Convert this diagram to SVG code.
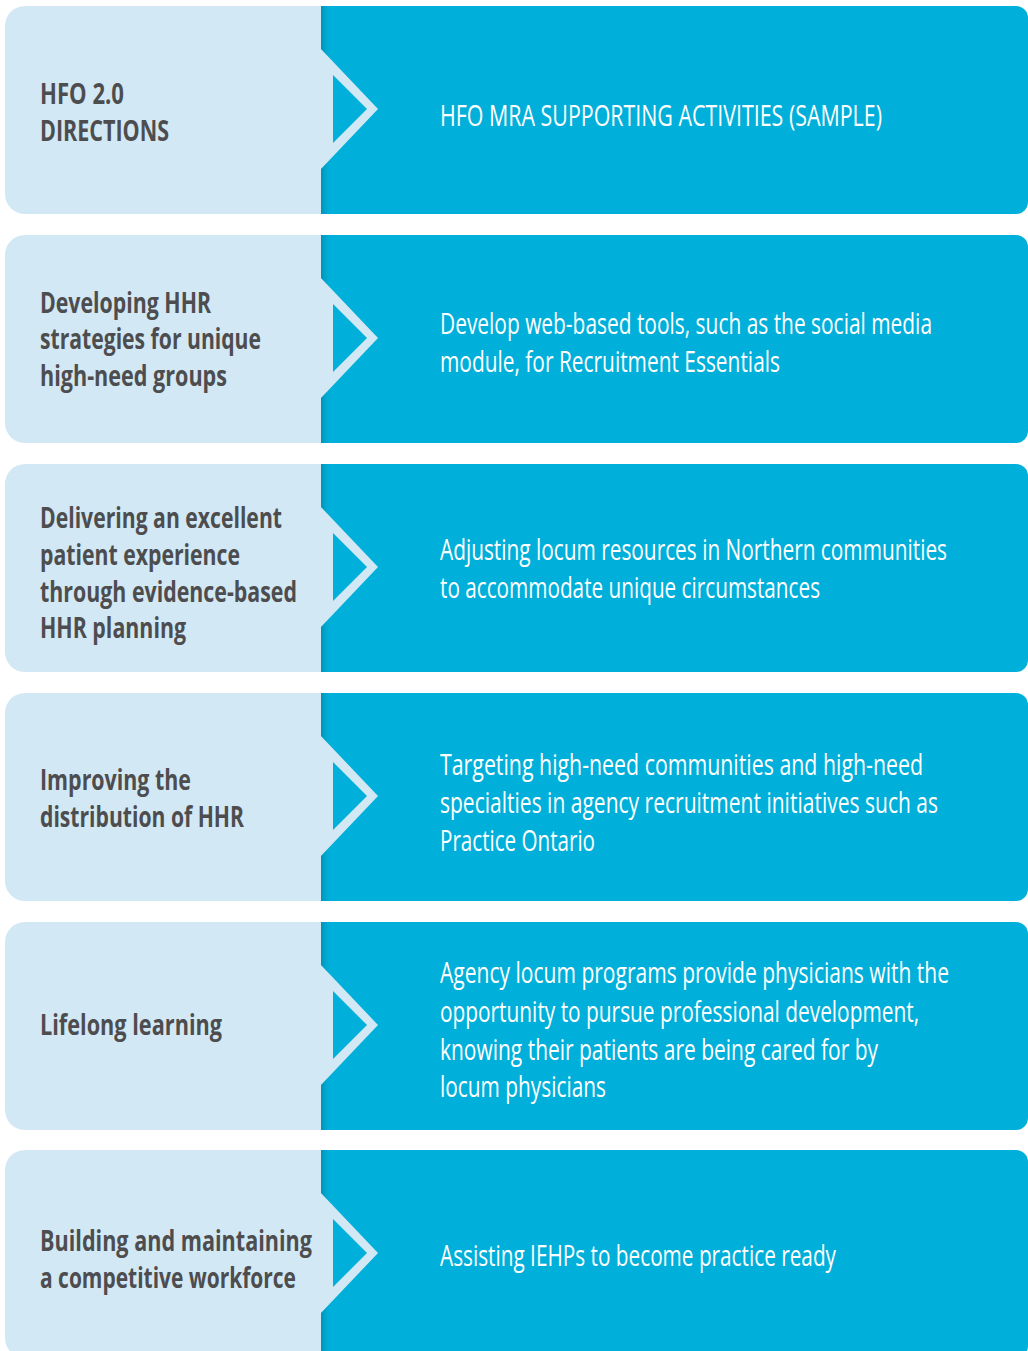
<svg xmlns="http://www.w3.org/2000/svg" xmlns:xlink="http://www.w3.org/1999/xlink" width="1028" height="1351" viewBox="0 0 1028 1351">
  <style>
    .panel-light { fill: #d2e8f4; }
    .panel-cyan { fill: #00b0da; }
    .dir { font-family: "Open Sans", "Noto Sans", "Liberation Sans", sans-serif; font-weight: 700; font-size: 28px; fill: #4d4d4f; }
    .act { font-family: "Open Sans", "Noto Sans", "Liberation Sans", sans-serif; font-weight: 400; font-size: 30px; fill: #ffffff; }
  </style>
  <defs>
    <linearGradient id="edgeShade" x1="0" y1="0" x2="1" y2="0">
      <stop offset="0" stop-color="#00789a" stop-opacity="0.55"/>
      <stop offset="1" stop-color="#00b0da" stop-opacity="0"/>
    </linearGradient>
    <!-- one row: light label panel with chevron, cyan activity panel -->
    <g id="rowShape">
      <path class="panel-cyan" d="M321,0 H1016 A12,12 0 0 1 1028,12 V196 A12,12 0 0 1 1016,208 H321 Z"/>
      <rect x="321" y="0" width="11" height="208" fill="url(#edgeShade)"/>
      <path class="panel-light" d="M25,0 H321 V208 H25 A20,20 0 0 1 5,188 V20 A20,20 0 0 1 25,0 Z"/>
      <path class="panel-light" d="M320,42 L378,103 L320,164 Z"/>
      <path class="panel-cyan" d="M333,69 L367,103 L333,137 Z"/>
    </g>
  </defs>

  <!-- text blocks are set in a condensed width: labels at 70%, activities at 75% -->
  <g id="row-header">
    <use xlink:href="#rowShape" transform="translate(0,6)"/>
    <g transform="translate(40,0) scale(0.7,1)">
      <text class="dir" x="0" y="104" textLength="120" lengthAdjust="spacingAndGlyphs">HFO 2.0</text>
      <text class="dir" x="0" y="141" textLength="184.3" lengthAdjust="spacingAndGlyphs">DIRECTIONS</text>
    </g>
    <g transform="translate(440,0) scale(0.75,1)">
      <text class="act" x="0" y="126" textLength="589.3" lengthAdjust="spacingAndGlyphs">HFO MRA SUPPORTING ACTIVITIES (SAMPLE)</text>
    </g>
  </g>

  <g id="row-hhr-strategies">
    <use xlink:href="#rowShape" transform="translate(0,235)"/>
    <g transform="translate(40,0) scale(0.7,1)">
      <text class="dir" x="0" y="313" textLength="244.3" lengthAdjust="spacingAndGlyphs">Developing HHR</text>
      <text class="dir" x="0" y="349" textLength="315.7" lengthAdjust="spacingAndGlyphs">strategies for unique</text>
      <text class="dir" x="0" y="386" textLength="267.1" lengthAdjust="spacingAndGlyphs">high-need groups</text>
    </g>
    <g transform="translate(440,0) scale(0.75,1)">
      <text class="act" x="0" y="334" textLength="656" lengthAdjust="spacingAndGlyphs">Develop web-based tools, such as the social media</text>
      <text class="act" x="0" y="372" textLength="453.3" lengthAdjust="spacingAndGlyphs">module, for Recruitment Essentials</text>
    </g>
  </g>

  <g id="row-patient-experience">
    <use xlink:href="#rowShape" transform="translate(0,464)"/>
    <g transform="translate(40,0) scale(0.7,1)">
      <text class="dir" x="0" y="528" textLength="345.7" lengthAdjust="spacingAndGlyphs">Delivering an excellent</text>
      <text class="dir" x="0" y="565" textLength="285.7" lengthAdjust="spacingAndGlyphs">patient experience</text>
      <text class="dir" x="0" y="602" textLength="367.1" lengthAdjust="spacingAndGlyphs">through evidence-based</text>
      <text class="dir" x="0" y="638" textLength="208.6" lengthAdjust="spacingAndGlyphs">HHR planning</text>
    </g>
    <g transform="translate(440,0) scale(0.75,1)">
      <text class="act" x="0" y="560" textLength="676" lengthAdjust="spacingAndGlyphs">Adjusting locum resources in Northern communities</text>
      <text class="act" x="0" y="598" textLength="506.7" lengthAdjust="spacingAndGlyphs">to accommodate unique circumstances</text>
    </g>
  </g>

  <g id="row-distribution">
    <use xlink:href="#rowShape" transform="translate(0,693)"/>
    <g transform="translate(40,0) scale(0.7,1)">
      <text class="dir" x="0" y="790" textLength="215.7" lengthAdjust="spacingAndGlyphs">Improving the</text>
      <text class="dir" x="0" y="827" textLength="291.4" lengthAdjust="spacingAndGlyphs">distribution of HHR</text>
    </g>
    <g transform="translate(440,0) scale(0.75,1)">
      <text class="act" x="0" y="775" textLength="644" lengthAdjust="spacingAndGlyphs">Targeting high-need communities and high-need</text>
      <text class="act" x="0" y="813" textLength="664" lengthAdjust="spacingAndGlyphs">specialties in agency recruitment initiatives such as</text>
      <text class="act" x="0" y="851" textLength="206.7" lengthAdjust="spacingAndGlyphs">Practice Ontario</text>
    </g>
  </g>

  <g id="row-lifelong-learning">
    <use xlink:href="#rowShape" transform="translate(0,922)"/>
    <g transform="translate(40,0) scale(0.7,1)">
      <text class="dir" x="0" y="1035" textLength="260" lengthAdjust="spacingAndGlyphs">Lifelong learning</text>
    </g>
    <g transform="translate(440,0) scale(0.75,1)">
      <text class="act" x="0" y="983" textLength="678.7" lengthAdjust="spacingAndGlyphs">Agency locum programs provide physicians with the</text>
      <text class="act" x="0" y="1022" textLength="638.7" lengthAdjust="spacingAndGlyphs">opportunity to pursue professional development,</text>
      <text class="act" x="0" y="1060" textLength="584" lengthAdjust="spacingAndGlyphs">knowing their patients are being cared for by</text>
      <text class="act" x="0" y="1097" textLength="221.3" lengthAdjust="spacingAndGlyphs">locum physicians</text>
    </g>
  </g>

  <g id="row-workforce">
    <use xlink:href="#rowShape" transform="translate(0,1150)"/>
    <g transform="translate(40,0) scale(0.7,1)">
      <text class="dir" x="0" y="1251" textLength="388.6" lengthAdjust="spacingAndGlyphs">Building and maintaining</text>
      <text class="dir" x="0" y="1288" textLength="365.7" lengthAdjust="spacingAndGlyphs">a competitive workforce</text>
    </g>
    <g transform="translate(440,0) scale(0.75,1)">
      <text class="act" x="0" y="1266" textLength="528" lengthAdjust="spacingAndGlyphs">Assisting IEHPs to become practice ready</text>
    </g>
  </g>
</svg>
